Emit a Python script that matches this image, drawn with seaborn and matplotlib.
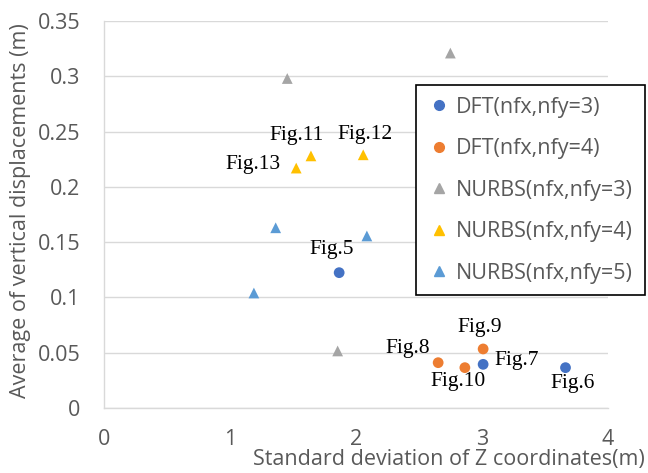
import matplotlib
matplotlib.use("Agg")
import matplotlib.pyplot as plt
import seaborn as sns
import pandas as pd

# Series values: standard deviation of Z (m) vs. average vertical displacement (m)
dft3_x = [1.867, 3.01, 3.664]
dft3_y = [0.1224, 0.0395, 0.0365]
dft4_x = [2.653, 2.865, 3.01]
dft4_y = [0.041, 0.0365, 0.0534]
nurbs3_x = [1.455, 2.75, 1.855]
nurbs3_y = [0.298, 0.321, 0.0516]
nurbs4_x = [1.526, 1.643, 2.058]
nurbs4_y = [0.217, 0.228, 0.229]
nurbs5_x = [1.363, 2.087, 1.19]
nurbs5_y = [0.163, 0.1556, 0.104]

series_names = ["DFT(nfx,nfy=3)", "DFT(nfx,nfy=4)", "NURBS(nfx,nfy=3)",
                "NURBS(nfx,nfy=4)", "NURBS(nfx,nfy=5)"]
series_x = [dft3_x, dft4_x, nurbs3_x, nurbs4_x, nurbs5_x]
series_y = [dft3_y, dft4_y, nurbs3_y, nurbs4_y, nurbs5_y]

# Figure labels: (text, label x, label y)
fig_labels = [
    ("Fig.5", 1.807, 0.143),
    ("Fig.6", 3.72, 0.0223),
    ("Fig.7", 3.275, 0.0428),
    ("Fig.8", 2.415, 0.054),
    ("Fig.9", 2.984, 0.073),
    ("Fig.10", 2.808, 0.024),
    ("Fig.11", 1.528, 0.246),
    ("Fig.12", 2.075, 0.247),
    ("Fig.13", 1.185, 0.2198),
]

colors = ["#4472C4", "#ED7D31", "#A5A5A5", "#FFC000", "#5B9BD5"]
markers = ["o", "o", "^", "^", "^"]

rows = []
for name, xs, ys in zip(series_names, series_x, series_y):
    for x, y in zip(xs, ys):
        rows.append({"series": name, "x": x, "y": y})
df = pd.DataFrame(rows)

sns.set_style("white")
plt.rcParams["font.family"] = ["Open Sans", "DejaVu Sans"]

fig = plt.figure(figsize=(6.48, 4.73), dpi=100)
ax = fig.add_axes([0.1605, 0.1374, 0.7775, 0.8182])

sns.scatterplot(data=df, x="x", y="y", hue="series", style="series",
                hue_order=series_names, style_order=series_names,
                palette=dict(zip(series_names, colors)),
                markers=dict(zip(series_names, markers)),
                s=60, linewidth=0, ax=ax, legend=False, zorder=3)

for text, lx, ly in fig_labels:
    ax.text(lx, ly, text, ha="center", va="center", fontsize=15.5,
            family=["Liberation Serif"], color="black", zorder=4)

ax.set_xlim(0, 4)
ax.set_ylim(0, 0.35)
ax.set_xticks([0, 1, 2, 3, 4])
ax.set_yticks([0, 0.05, 0.1, 0.15, 0.2, 0.25, 0.3, 0.35])
ax.set_xticklabels(["0", "1", "2", "3", "4"])
ax.set_yticklabels(["0", "0.05", "0.1", "0.15", "0.2", "0.25", "0.3", "0.35"])
ax.tick_params(axis="both", length=0, labelsize=15.5, colors="#595959")
ax.tick_params(axis="x", pad=15)
ax.tick_params(axis="y", pad=17)
ax.yaxis.grid(True, color="#D9D9D9", linewidth=1)
ax.xaxis.grid(False)
for side in ["top", "right"]:
    ax.spines[side].set_visible(False)
for side in ["left", "bottom"]:
    ax.spines[side].set_color("#D9D9D9")
    ax.spines[side].set_linewidth(1)

ax.set_xlabel("Standard deviation of Z coordinates(m)", fontsize=15.5,
              color="#595959", ha="right")
ax.xaxis.set_label_coords(1.073, -0.105)
ax.set_ylabel("Average of vertical displacements (m)", fontsize=15.5,
              color="#595959", va="center")
ax.yaxis.set_label_coords(-0.165, 0.51)

handles = [plt.Line2D([], [], marker=m, color=c, linestyle="none", markersize=7)
           for m, c in zip(markers, colors)]
leg = fig.legend(handles, series_names, loc="upper left",
                 bbox_to_anchor=(416 / 648, 1 - 85 / 473),
                 frameon=True, fancybox=False, framealpha=1, fontsize=15.5,
                 labelspacing=0.95, handletextpad=0.3, handlelength=1.0,
                 borderpad=0.55, borderaxespad=0)
leg.get_frame().set_edgecolor("black")
leg.get_frame().set_linewidth(1.2)
for t in leg.get_texts():
    t.set_color("#595959")

fig.savefig("out.png", dpi=100)
